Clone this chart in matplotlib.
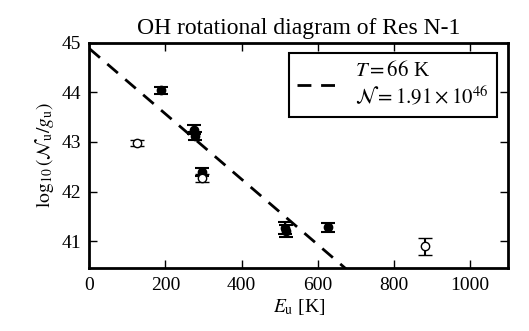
import numpy as np
import matplotlib
matplotlib.use("Agg")
from matplotlib import pyplot as plt

plt.rcParams['font.family'] = ['Liberation Serif', 'DejaVu Serif']
plt.rcParams['mathtext.fontset'] = 'stix'

# filled points (used in fit)
e_fill = [187, 275, 277, 297, 515, 517, 628]
y_fill = [44.04, 43.25, 43.12, 42.40, 41.26, 41.20, 41.28]
err_fill = [0.07, 0.09, 0.09, 0.08, 0.12, 0.12, 0.09]

# open points (excluded)
e_open = [124, 297, 882]
y_open = [42.97, 42.28, 40.90]
err_open = [0.06, 0.08, 0.17]

T = 66.0
intercept = 44.88

fig = plt.figure(figsize=(5.29, 3.31), dpi=100)
ax = fig.add_axes([0.169, 0.189, 0.791, 0.682])

ax.errorbar(e_fill, y_fill, yerr=err_fill, fmt='o', color='black', ms=6,
            capsize=5, elinewidth=1.5, capthick=1.5)
ax.errorbar(e_open, y_open, yerr=err_open, fmt='o', color='black', mfc='white',
            mec='black', ms=6, mew=1.0, capsize=5, elinewidth=1.5, capthick=1.5)

x = np.linspace(0, 1100, 200)
ax.plot(x, intercept - np.log10(np.e) / T * x, '--', color='black', lw=2,
        dashes=(5, 3.5),
        label='$T = 66$ K\n$\\mathcal{N} = 1.91 \\times 10^{46}$')

ax.set_xlim(0, 1100)
ax.set_ylim(40.45, 45)
ax.set_xticks([0, 200, 400, 600, 800, 1000])
ax.set_yticks([41, 42, 43, 44, 45])
ax.tick_params(direction='in', length=6, width=1, top=True, right=True,
               labelsize=14, pad=6)
for s in ax.spines.values():
    s.set_linewidth(2)

ax.set_xlabel('$E_\\mathrm{u}$ [K]', fontsize=14, labelpad=2)
ax.set_ylabel('$\\log_{10}(\\mathcal{N}_\\mathrm{u}/g_\\mathrm{u})$', fontsize=14)
ax.set_title('OH rotational diagram of Res N-1', fontsize=17)

leg = ax.legend(loc='upper right', fontsize=15, fancybox=False,
                edgecolor='black', framealpha=1, handlelength=2,
                borderaxespad=0.5)
leg.get_frame().set_linewidth(1.5)

fig.savefig('out.png', dpi=100)
